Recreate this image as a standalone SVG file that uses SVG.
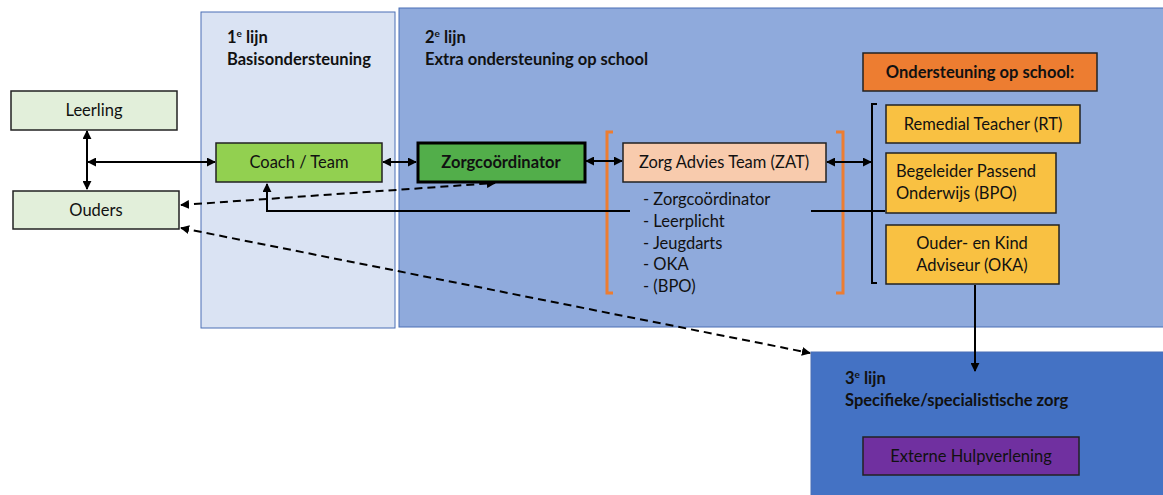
<svg xmlns="http://www.w3.org/2000/svg" width="1163" height="495" viewBox="0 0 1163 495">
<style>
text{font-family:Lato,"Open Sans","Liberation Sans",sans-serif;font-size:16.5px;fill:#111}
.b{font-weight:bold}
.m{text-anchor:middle;dominant-baseline:central}
.box{stroke:#222;stroke-width:1.5}
.panel{stroke:#4a6fb5;stroke-width:1}
.c{fill:none;stroke:#000;stroke-width:2}
.d{fill:none;stroke:#000;stroke-width:2;stroke-dasharray:8 5}
</style>
<defs>
<marker id="ah" viewBox="0 0 10 10" refX="9" refY="5" markerWidth="9" markerHeight="9" markerUnits="userSpaceOnUse" orient="auto-start-reverse">
<path d="M0 0 L10 5 L0 10 Z" fill="#000"/>
</marker>
</defs>
<rect width="1163" height="495" fill="#fff"/>
<g id="panel1">
<rect class="panel" x="201" y="12" width="194" height="316" fill="#dae3f3"/>
<text class="b" x="227" y="43">1<tspan font-size="10" dy="-6">e</tspan><tspan dy="6"> lijn</tspan></text>
<text class="b" x="227" y="65">Basisondersteuning</text>
</g>
<g id="panel2">
<rect class="panel" x="399" y="8" width="770" height="319" fill="#8faadc"/>
<text class="b" x="425" y="43">2<tspan font-size="10" dy="-6">e</tspan><tspan dy="6"> lijn</tspan></text>
<text class="b" x="425" y="65">Extra ondersteuning op school</text>
</g>
<g id="panel3">
<rect class="panel" x="811" y="352" width="360" height="150" fill="#4472c4"/>
<text class="b" x="845" y="384">3<tspan font-size="10" dy="-6">e</tspan><tspan dy="6"> lijn</tspan></text>
<text class="b" x="845" y="406">Specifieke/specialistische zorg</text>
</g>
<g id="brackets">
<path d="M613 132 H607 V293 H613" fill="none" stroke="#ed7d31" stroke-width="3"/>
<path d="M836 132 H843 V293 H836" fill="none" stroke="#ed7d31" stroke-width="3"/>
<path d="M877 104 H872 V283 H877" fill="none" stroke="#000" stroke-width="2"/>
</g>
<g id="connectors">
<line class="c" x1="87" y1="131" x2="87" y2="189" marker-start="url(#ah)" marker-end="url(#ah)"/>
<line class="c" x1="88" y1="162" x2="215" y2="162" marker-start="url(#ah)" marker-end="url(#ah)"/>
<line class="c" x1="383" y1="162" x2="416" y2="162" marker-start="url(#ah)" marker-end="url(#ah)"/>
<line class="c" x1="586" y1="161" x2="622" y2="161" marker-start="url(#ah)" marker-end="url(#ah)"/>
<line class="c" x1="827" y1="162" x2="871" y2="162" marker-start="url(#ah)" marker-end="url(#ah)"/>
<path class="c" d="M885 211 H811 M630 211 H267 V184" marker-end="url(#ah)"/>
<line class="d" x1="181" y1="205" x2="495" y2="183" marker-start="url(#ah)" marker-end="url(#ah)"/>
<line class="d" x1="181" y1="228" x2="810" y2="353" marker-start="url(#ah)" marker-end="url(#ah)"/>
<line class="c" x1="975" y1="285" x2="975" y2="371" marker-end="url(#ah)"/>
</g>
<g id="leerling">
<rect class="box" x="11" y="91" width="166" height="39" fill="#e2efda"/>
<text class="m" x="94" y="110">Leerling</text>
</g>
<g id="ouders">
<rect class="box" x="13" y="191" width="166" height="38" fill="#e2efda"/>
<text class="m" x="96" y="210">Ouders</text>
</g>
<g id="coach">
<rect class="box" x="216" y="143" width="166" height="39" fill="#92d050"/>
<text class="m" x="299" y="162">Coach / Team</text>
</g>
<g id="zorgcoordinator">
<rect x="418" y="143" width="167" height="39" fill="#52ae4a" stroke="#000" stroke-width="3"/>
<text class="m b" x="501" y="162">Zorgcoördinator</text>
</g>
<g id="zat">
<rect class="box" x="623" y="143" width="203" height="39" fill="#f8cbad"/>
<text class="m" x="724" y="162">Zorg Advies Team (ZAT)</text>
<text x="643" y="205">- Zorgcoördinator</text>
<text x="643" y="227">- Leerplicht</text>
<text x="643" y="249">- Jeugdarts</text>
<text x="643" y="270">- OKA</text>
<text x="643" y="292">- (BPO)</text>
</g>
<g id="ondersteuning">
<rect class="box" x="863" y="53" width="234" height="38" fill="#ed7d31"/>
<text class="m b" x="980" y="72">Ondersteuning op school:</text>
</g>
<g id="rt">
<rect class="box" x="886" y="105" width="194" height="38" fill="#f9c142"/>
<text class="m" x="983" y="124">Remedial Teacher (RT)</text>
</g>
<g id="bpo">
<rect class="box" x="886" y="153" width="170" height="60" fill="#f9c142"/>
<text x="896" y="177">Begeleider Passend</text>
<text x="896" y="199">Onderwijs (BPO)</text>
</g>
<g id="oka">
<rect class="box" x="886" y="225" width="173" height="59" fill="#f9c142"/>
<text class="m" x="972" y="243">Ouder- en Kind</text>
<text class="m" x="972" y="265">Adviseur (OKA)</text>
</g>
<g id="extern">
<rect class="box" x="863" y="437" width="216" height="38" fill="#7030a0"/>
<text class="m" x="971" y="456">Externe Hulpverlening</text>
</g>
</svg>
